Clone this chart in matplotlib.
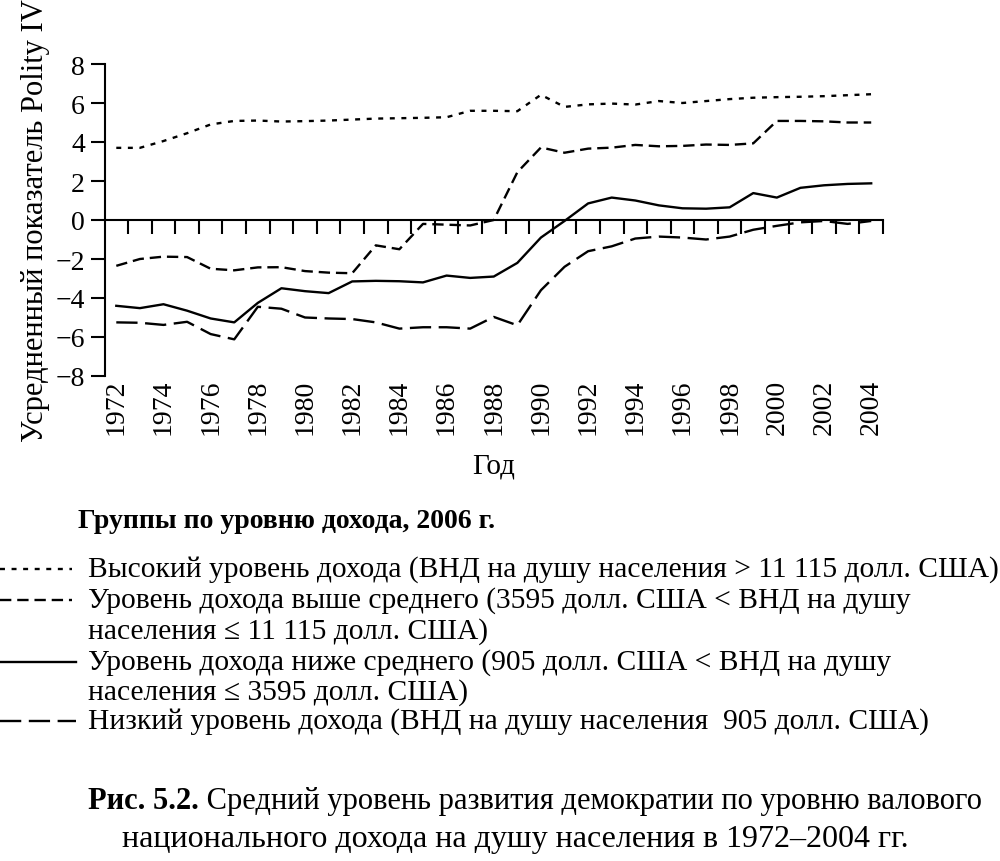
import numpy as np
import matplotlib
matplotlib.use("Agg")
import matplotlib.pyplot as plt
from matplotlib.lines import Line2D

plt.rcParams['font.family'] = ['Liberation Serif', 'DejaVu Serif']

# Data
years = list(range(1972, 2005))

high = [3.7, 3.7, 4.05, 4.45, 4.9, 5.08, 5.1, 5.05, 5.07, 5.1, 5.15,
        5.2, 5.22, 5.24, 5.27, 5.6, 5.6, 5.58, 6.42, 5.8, 5.93, 5.97,
        5.92, 6.1, 6.0, 6.1, 6.2, 6.27, 6.3, 6.32, 6.35, 6.4, 6.45]

upper_mid = [-2.35, -2.0, -1.88, -1.9, -2.5, -2.58, -2.43, -2.42, -2.62,
             -2.7, -2.73, -1.3, -1.5, -0.2, -0.24, -0.28, 0.0, 2.45, 3.72,
             3.45, 3.66, 3.71, 3.85, 3.78, 3.8, 3.87, 3.85, 3.93, 5.08,
             5.08, 5.06, 5.0, 5.0]

lower_mid = [-4.4, -4.52, -4.32, -4.65, -5.05, -5.25, -4.25, -3.5, -3.65,
             -3.75, -3.15, -3.12, -3.14, -3.2, -2.85, -2.97, -2.9, -2.2,
             -0.9, -0.05, 0.85, 1.15, 1.0, 0.75, 0.6, 0.58, 0.65, 1.38,
             1.15, 1.65, 1.78, 1.85, 1.88]

low = [-5.25, -5.27, -5.38, -5.22, -5.85, -6.12, -4.45, -4.55, -5.0, -5.05,
       -5.08, -5.25, -5.57, -5.5, -5.5, -5.57, -4.97, -5.4, -3.6, -2.4,
       -1.6, -1.35, -0.95, -0.85, -0.9, -1.0, -0.85, -0.5, -0.3, -0.12,
       -0.05, -0.2, -0.05]

yticks = [8, 6, 4, 2, 0, -2, -4, -6, -8]
year_labels = list(range(1972, 2005, 2))

legend_title = 'Группы по уровню дохода, 2006 г.'
legend_lines = [
    'Высокий уровень дохода (ВНД на душу населения > 11 115 долл. США)',
    'Уровень дохода выше среднего (3595 долл. США < ВНД на душу',
    'населения ≤ 11 115 долл. США)',
    'Уровень дохода ниже среднего (905 долл. США < ВНД на душу',
    'населения ≤ 3595 долл. США)',
    'Низкий уровень дохода (ВНД на душу населения  905 долл. США)',
]

# line styles
lw = 1.7
st_high = (0, (2.1, 2.8))
st_upper = (0, (4.8, 2.5))
st_lower = '-'
st_low = (0, (9.0, 3.2))

W, H = 1000, 862
fx = lambda px: px / W
fy = lambda py: 1 - py / H

fig = plt.figure(figsize=(10, 8.62), dpi=100)
ax = fig.add_axes([fx(104.5), fy(377), (883 - 104.5) / W, (377 - 65) / H])

ax.plot(years, high, color='black', lw=lw, ls=st_high)
ax.plot(years, upper_mid, color='black', lw=lw, ls=st_upper)
ax.plot(years, lower_mid, color='black', lw=lw, ls=st_lower)
ax.plot(years, low, color='black', lw=lw, ls=st_low)

ax.set_xlim(1971.5, 2004.5)
ax.set_ylim(-8, 8)

ax.spines['top'].set_visible(False)
ax.spines['right'].set_visible(False)
ax.spines['bottom'].set_position(('data', 0))
ax.spines['bottom'].set_linewidth(1.5)
ax.spines['left'].set_linewidth(1.5)

ax.set_yticks(yticks)
ax.tick_params(axis='y', direction='out', length=10, width=1.5, pad=4,
               labelsize=20)

# year boundary ticks on the zero line, no labels there
ax.set_xticks(np.array(years) + 0.5)
ax.tick_params(axis='x', direction='out', length=10, width=1.5,
               labelbottom=False)

# year labels at the bottom of the axes
sec = ax.secondary_xaxis(0)
sec.spines['bottom'].set_visible(False)
sec.set_xticks(year_labels)
sec.set_xticklabels([str(y) for y in year_labels], rotation=90)
sec.tick_params(axis='x', length=0, pad=2, labelsize=20)
sec.set_xlabel('Год', fontsize=21, labelpad=13)

ax.set_ylabel('Усредненный показатель Polity IV', fontsize=22, labelpad=4)

# legend block
fig.text(fx(78), fy(522), legend_title, fontsize=20, fontweight='bold',
         ha='left', va='center')
text_y = [570, 601, 632, 663, 693, 722]
for t, py in zip(legend_lines, text_y):
    fig.text(fx(88), fy(py), t, fontsize=21.25, ha='left', va='center')

samples = [(570, st_high, 72), (601, st_upper, 72), (663, st_lower, 76),
           (722, st_low, 76)]
for py, st, ln in samples:
    fig.add_artist(Line2D([0, fx(ln)], [fy(py), fy(py)], color='black',
                          lw=lw, ls=st, transform=fig.transFigure))

# caption
cap1 = fig.text(fx(88), fy(816), 'Рис. 5.2.', fontsize=22, fontweight='bold',
                ha='left', va='bottom')
ax.annotate(' Средний уровень развития демократии по уровню валового',
            xy=(1, 0), xycoords=cap1, fontsize=22, ha='left', va='bottom',
            annotation_clip=False)
fig.text(fx(515), fy(840), 'национального дохода на душу населения в 1972–2004 гг.',
         fontsize=23, ha='center', va='center')

fig.savefig('out.png', dpi=100)
